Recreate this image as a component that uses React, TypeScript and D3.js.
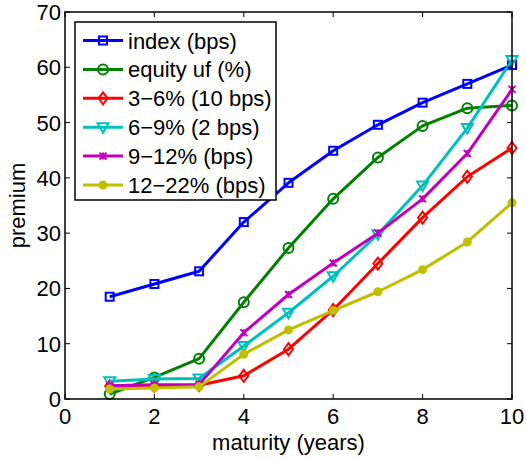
import * as d3 from 'd3'
import { useEffect, useRef } from 'react'

const maturities = [1, 2, 3, 4, 5, 6, 7, 8, 9, 10]
const indexBps = [18.5, 20.8, 23.1, 32.0, 39.1, 44.9, 49.6, 53.6, 57.0, 60.4]
const equityUf = [0.9, 3.9, 7.3, 17.5, 27.3, 36.2, 43.7, 49.4, 52.6, 53.1]
const band3to6 = [2.3, 2.4, 2.5, 4.2, 9.0, 16.1, 24.5, 32.8, 40.2, 45.4]
const band6to9 = [3.2, 3.6, 3.7, 9.6, 15.6, 22.2, 29.8, 38.6, 49.0, 61.3]
const band9to12 = [2.4, 2.6, 2.6, 12.0, 18.9, 24.6, 30.0, 36.2, 44.4, 56.0]
const band12to22 = [1.8, 2.0, 2.2, 8.1, 12.5, 16.0, 19.4, 23.4, 28.4, 35.5]

const seriesNames = ['index (bps)', 'equity uf (%)', '3\u22126% (10 bps)', '6\u22129% (2 bps)', '9\u221212% (bps)', '12\u221222% (bps)']
const seriesColors = ['#0000ff', '#008000', '#ff0000', '#00bfbf', '#bf00bf', '#bfbf00']
const seriesMarkers = ['square', 'circle', 'diamond', 'triangle', 'star', 'dot']

const xTicks = [0, 2, 4, 6, 8, 10]
const yTicks = [0, 10, 20, 30, 40, 50, 60, 70]

const drawMarker = (g: any, kind: string, cx: number, cy: number, color: string) => {
  if (kind === 'square') {
    g.append('rect').attr('x', cx - 4).attr('y', cy - 4).attr('width', 8).attr('height', 8)
      .attr('fill', 'none').attr('stroke', color).attr('stroke-width', 2)
  } else if (kind === 'circle') {
    g.append('circle').attr('cx', cx).attr('cy', cy).attr('r', 5)
      .attr('fill', 'none').attr('stroke', color).attr('stroke-width', 2)
  } else if (kind === 'diamond') {
    g.append('path').attr('d', `M${cx},${cy - 6}L${cx + 4.5},${cy}L${cx},${cy + 6}L${cx - 4.5},${cy}Z`)
      .attr('fill', 'none').attr('stroke', color).attr('stroke-width', 2)
  } else if (kind === 'triangle') {
    g.append('path').attr('d', `M${cx - 5.5},${cy - 4}L${cx + 5.5},${cy - 4}L${cx},${cy + 5.5}Z`)
      .attr('fill', 'none').attr('stroke', color).attr('stroke-width', 2)
  } else if (kind === 'star') {
    const r = 3.5
    g.append('path')
      .attr('d', `M${cx - r},${cy - r}L${cx + r},${cy + r}M${cx - r},${cy + r}L${cx + r},${cy - r}M${cx},${cy - r}L${cx},${cy + r}`)
      .attr('stroke', color).attr('stroke-width', 2)
  } else {
    g.append('circle').attr('cx', cx).attr('cy', cy).attr('r', 4.5).attr('fill', color)
  }
}

const drawChart = (node: SVGSVGElement) => {
  const WIDTH = 526
  const HEIGHT = 460
  const MARGIN = { TOP: 12, RIGHT: 14, BOTTOM: 61, LEFT: 65 }
  const FONT = 'Liberation Sans, Arial, sans-serif'
  const FS = 22

  const svg = d3.select(node)
  svg.selectAll('*').remove()
  svg.attr('width', WIDTH).attr('height', HEIGHT)

  const x = d3.scaleLinear().domain([0, 10]).range([MARGIN.LEFT, WIDTH - MARGIN.RIGHT])
  const y = d3.scaleLinear().domain([0, 70]).range([HEIGHT - MARGIN.BOTTOM, MARGIN.TOP])

  svg.append('rect').attr('width', WIDTH).attr('height', HEIGHT).attr('fill', 'white')

  const data = [indexBps, equityUf, band3to6, band6to9, band9to12, band12to22]

  const line = d3.line<number>()
    .x((d, i) => x(maturities[i]))
    .y(d => y(d))

  const plot = svg.append('g')
  data.forEach((values, k) => {
    plot.append('path')
      .datum(values)
      .attr('d', line)
      .attr('fill', 'none')
      .attr('stroke', seriesColors[k])
      .attr('stroke-width', 3)
      .attr('stroke-linejoin', 'round')
    values.forEach((v, i) => drawMarker(plot, seriesMarkers[k], x(maturities[i]), y(v), seriesColors[k]))
  })

  // ticks inside on all four sides
  const axes = svg.append('g').attr('stroke', '#000').attr('stroke-width', 1)
  const x0 = x.range()[0], x1 = x.range()[1]
  const y0 = y.range()[0], y1 = y.range()[1]
  xTicks.forEach(t => {
    axes.append('line').attr('x1', x(t)).attr('x2', x(t)).attr('y1', y0).attr('y2', y0 - 5)
    axes.append('line').attr('x1', x(t)).attr('x2', x(t)).attr('y1', y1).attr('y2', y1 + 5)
  })
  yTicks.forEach(t => {
    axes.append('line').attr('x1', x0).attr('x2', x0 + 5).attr('y1', y(t)).attr('y2', y(t))
    axes.append('line').attr('x1', x1).attr('x2', x1 - 5).attr('y1', y(t)).attr('y2', y(t))
  })
  svg.append('rect')
    .attr('x', x0).attr('y', y1).attr('width', x1 - x0).attr('height', y0 - y1)
    .attr('fill', 'none').attr('stroke', '#000').attr('stroke-width', 1.5)

  const labels = svg.append('g').attr('font-family', FONT).attr('font-size', FS).attr('fill', '#000')
  xTicks.forEach(t => {
    labels.append('text').attr('x', x(t)).attr('y', y0 + 25).attr('text-anchor', 'middle').text(t)
  })
  yTicks.forEach(t => {
    labels.append('text').attr('x', x0 - 4).attr('y', y(t) + 8).attr('text-anchor', 'end').text(t)
  })
  labels.append('text').attr('x', (x0 + x1) / 2).attr('y', 450).attr('text-anchor', 'middle').text('maturity (years)')
  labels.append('text').attr('transform', `translate(25,${(y0 + y1) / 2}) rotate(-90)`)
    .attr('text-anchor', 'middle').text('premium')

  // legend
  const legend = svg.append('g')
  legend.append('rect').attr('x', 75).attr('y', 22).attr('width', 201).attr('height', 178)
    .attr('fill', 'white').attr('stroke', '#000').attr('stroke-width', 1.5)
  seriesNames.forEach((name, k) => {
    const cy = 40.5 + k * 28.9
    legend.append('line').attr('x1', 83).attr('x2', 123).attr('y1', cy).attr('y2', cy)
      .attr('stroke', seriesColors[k]).attr('stroke-width', 3)
    drawMarker(legend, seriesMarkers[k], 103, cy, seriesColors[k])
    legend.append('text').attr('x', 128).attr('y', cy + 8)
      .attr('font-family', FONT).attr('font-size', FS).text(name)
  })
}

export default function App() {
  const ref = useRef<SVGSVGElement>(null)
  useEffect(() => {
    document.body.style.margin = '0'
    if (ref.current) drawChart(ref.current)
  }, [])
  return <svg ref={ref} style={{ display: 'block' }}></svg>
}
